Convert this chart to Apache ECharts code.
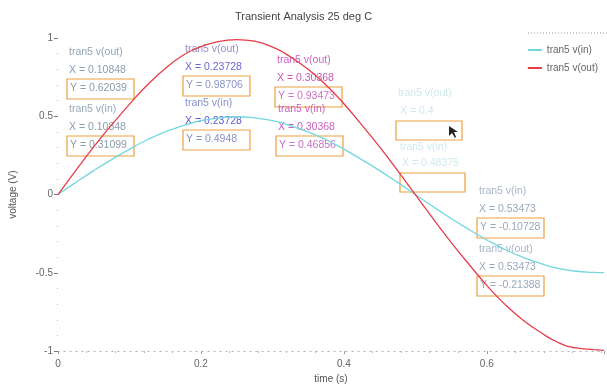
<!DOCTYPE html>
<html>
<head>
<meta charset="utf-8">
<script src="https://cdn.jsdelivr.net/npm/echarts@6/dist/echarts.min.js"></script>
<style>
  html, body { margin: 0; padding: 0; background: #fff; }
  #chart { width: 607px; height: 389px; }
</style>
</head>
<body>
<div id="chart"></div>
<script>
// Sample times (s) and the two transient waveforms (V)
const time = [0, 0.025, 0.05, 0.075, 0.10848, 0.125, 0.15, 0.175, 0.2, 0.23728, 0.25, 0.275, 0.30368,
  0.325, 0.35, 0.375, 0.4, 0.425, 0.45, 0.475, 0.5, 0.53473, 0.55, 0.575, 0.6, 0.625, 0.65, 0.675,
  0.7, 0.725, 0.75, 0.764];
const vOut = [0, 0.155, 0.305, 0.445, 0.62039, 0.70, 0.805, 0.89, 0.945, 0.98706, 0.99, 0.98, 0.93473,
  0.88, 0.80, 0.70, 0.58, 0.445, 0.305, 0.155, 0, -0.21388, -0.305, -0.445, -0.58, -0.70, -0.80, -0.88,
  -0.945, -0.98, -0.99, -0.995];
const vIn = [0, 0.078, 0.153, 0.223, 0.31099, 0.35, 0.40, 0.44, 0.472, 0.4948, 0.497, 0.49, 0.46856,
  0.44, 0.40, 0.35, 0.29, 0.223, 0.153, 0.078, 0, -0.10728, -0.153, -0.223, -0.29, -0.35, -0.40, -0.44,
  -0.472, -0.49, -0.497, -0.499];

const seriesNames = ['tran5 v(in)', 'tran5 v(out)'];
const xTicks = [0, 0.2, 0.4, 0.6];
const yTicks = [-1, -0.5, 0, 0.5, 1];

// Cursor readouts: index into time[] for each probed point
const probes = [
  { idx: 4, out: true }, { idx: 4, out: false },
  { idx: 9, out: true }, { idx: 9, out: false },
  { idx: 12, out: true }, { idx: 12, out: false },
  { idx: 21, out: false }, { idx: 21, out: true }
];

const chart = echarts.init(document.getElementById('chart'));

const pts = (ys) => time.map((t, i) => [t, ys[i]]);

// Readout block layout: [left, top of name line, name colour, X colour, Y colour]
const blocks = [
  [67, 47, '#8fa4b4', '#8c9cac', '#8a9aaa'],
  [67, 104, '#98aab8', '#8c9cac', '#8a9aaa'],
  [183, 44, '#9a8cc8', '#6a68d0', '#8a94c8'],
  [183, 98, '#8a90d0', '#5a5ad8', '#8890c8'],
  [275, 55, '#d060c8', '#c858b8', '#d070c8'],
  [276, 104, '#c860c0', '#c860c0', '#c870c8'],
  [477, 186, '#a8b4c8', '#9aa8bc', '#9aa8bc'],
  [477, 244, '#a8b4c8', '#9aa8bc', '#9aa8bc']
];

const fmt = (v) => (v < 0 ? '-' : '') + String(Math.abs(v));
const font = '10.5px "Liberation Sans", Arial';

const graphics = [];
probes.forEach((p, k) => {
  const [left, top, cName, cX, cY] = blocks[k];
  const yVal = p.out ? vOut[p.idx] : vIn[p.idx];
  graphics.push({ type: 'text', left: left + 2, top: top,
    style: { text: p.out ? 'tran5 v(out)' : 'tran5 v(in)', fill: cName, font: font } });
  graphics.push({ type: 'text', left: left + 2, top: top + 18,
    style: { text: 'X = ' + time[p.idx], fill: cX, font: font } });
  graphics.push({ type: 'rect', shape: { x: left, y: top + 32, width: 67, height: 20 },
    style: { fill: 'none', stroke: '#eda040', lineWidth: 1.2 } });
  graphics.push({ type: 'text', left: left + 3, top: top + 36,
    style: { text: 'Y = ' + fmt(yVal), fill: cY, font: font } });
});

// Faded readout near the zero crossing
const faint = '#cfe9ec';
[['tran5 v(out)', 398, 88], ['X = 0.4', 400, 106], ['tran5 v(in)', 400, 142], ['X = 0.48375', 402, 158]]
  .forEach(([s, x, y]) => graphics.push({ type: 'text', left: x, top: y,
    style: { text: s, fill: faint, font: font } }));
graphics.push({ type: 'rect', shape: { x: 396, y: 121, width: 66, height: 19 },
  style: { fill: 'none', stroke: '#eda040', lineWidth: 1.2 } });
graphics.push({ type: 'rect', shape: { x: 400, y: 173, width: 65, height: 19 },
  style: { fill: 'none', stroke: '#eda040', lineWidth: 1.2 } });
graphics.push({ type: 'polygon', shape: { points: [[449, 126], [449, 136], [452, 133], [455, 138], [456, 137], [454, 132], [458, 132]] },
  style: { fill: '#222' } });
// Legend frame top edge
graphics.push({ type: 'line', shape: { x1: 528, y1: 33, x2: 607, y2: 33 },
  style: { stroke: '#999', lineWidth: 1, lineDash: [1, 2] } });

chart.setOption({
  animation: false,
  backgroundColor: '#fff',
  textStyle: { fontFamily: '"Liberation Sans", Arial, sans-serif' },
  title: {
    text: 'Transient Analysis 25 deg C', left: 'center', top: 6,
    textStyle: { fontSize: 11, fontWeight: 'normal', color: '#444' }
  },
  legend: {
    orient: 'vertical', right: 4, top: 40, itemGap: 8, itemWidth: 14, itemHeight: 2,
    icon: 'rect', data: seriesNames,
    textStyle: { fontSize: 10, color: '#666' }
  },
  grid: { left: 57, right: 0, top: 38, bottom: 37 },
  xAxis: {
    type: 'value', min: 0, max: 0.764, interval: 0.2,
    name: 'time (s)', nameLocation: 'middle', nameGap: 22,
    nameTextStyle: { fontSize: 10, color: '#555' },
    axisLine: { show: true, onZero: false, lineStyle: { color: '#aaa', type: [1, 5] } },
    axisTick: { show: true, length: 3, lineStyle: { color: '#999' } },
    minorTick: { show: true, splitNumber: 5, length: 2, lineStyle: { color: '#bbb' } },
    axisLabel: { fontSize: 10, color: '#666', margin: 8,
      formatter: (v) => xTicks.includes(Math.round(v * 10) / 10) ? String(Math.round(v * 10) / 10) : '' },
    splitLine: { show: false }
  },
  yAxis: {
    type: 'value', min: -1, max: 1, interval: 0.5,
    name: 'voltage (V)', nameLocation: 'middle', nameGap: 40, nameRotate: 90,
    nameTextStyle: { fontSize: 10, color: '#555' },
    axisLine: { show: false },
    axisTick: { show: true, length: 4, lineStyle: { color: '#777' } },
    minorTick: { show: true, splitNumber: 5, length: 1, lineStyle: { color: '#bbb' } },
    axisLabel: { fontSize: 10, color: '#666', margin: 5,
      formatter: (v) => yTicks.includes(v) ? String(v) : '' },
    splitLine: { show: false }
  },
  series: [
    { name: seriesNames[0], type: 'line', data: pts(vIn), smooth: true, symbol: 'none',
      lineStyle: { color: '#72d8e0', width: 1.3 }, itemStyle: { color: '#72d8e0' } },
    { name: seriesNames[1], type: 'line', data: pts(vOut), smooth: true, symbol: 'none',
      lineStyle: { color: '#e63c48', width: 1.3 }, itemStyle: { color: '#e63c48' } }
  ],
  graphic: graphics
});
</script>
</body>
</html>
